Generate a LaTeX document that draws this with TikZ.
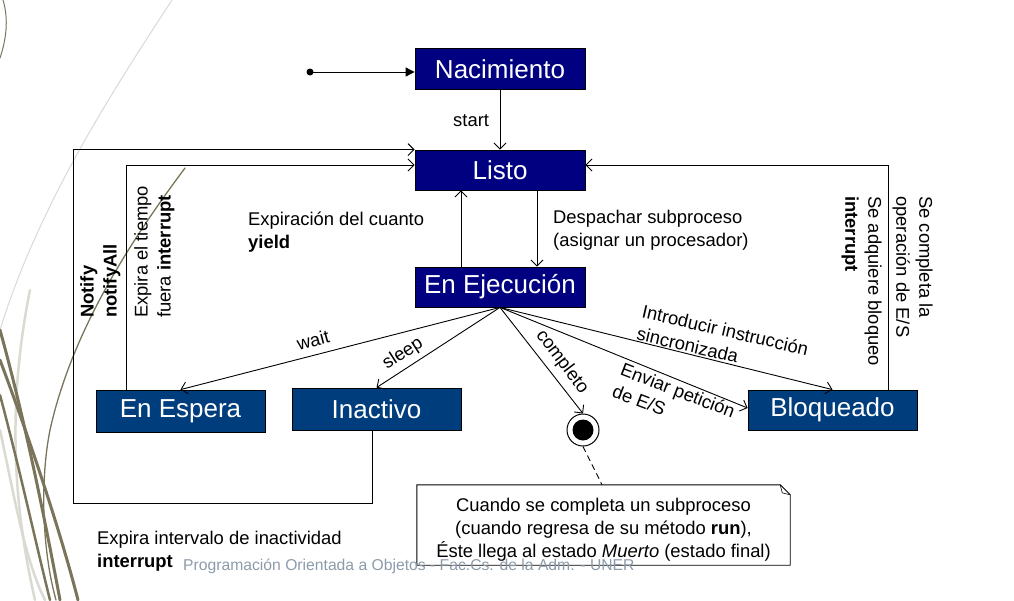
\documentclass[tikz,border=0pt]{standalone}
\usepackage{fontspec}
\setmainfont{Liberation Sans}
\usetikzlibrary{arrows.meta,calc}
\definecolor{navybox}{RGB}{0,0,128}
\definecolor{bluebox}{RGB}{0,61,125}
\definecolor{olivedeco}{RGB}{122,116,90}
\definecolor{lightdeco}{RGB}{218,218,210}
\definecolor{footgray}{RGB}{140,155,170}
\tikzset{
 state/.style={draw=black, line width=0.8pt, text=white, minimum width=170pt, minimum height=41pt, inner sep=0pt, font=\fontsize{26}{30}\selectfont},
 topstate/.style={state, fill=navybox},
 lowstate/.style={state, fill=bluebox},
 lbl/.style={font=\fontsize{18.4}{23}\selectfont, inner sep=0pt, align=left},
 trans/.style={draw=black, line width=0.9pt, -{Straight Barb[length=6pt,width=12pt]}},
 deco/.style={line cap=round},
}
\begin{document}
\begin{tikzpicture}[x=1pt,y=-1pt]
\useasboundingbox (0,0) rectangle (1014,600);
% decorative curves
\draw[deco, lightdeco, line width=1pt] (172,0) .. controls (120,80) and (40,200) .. (0,330);
\draw[deco, lightdeco, line width=2.5pt] (30,290) .. controls (8,400) and (12,500) .. (35,600);
\draw[deco, lightdeco, line width=2.5pt] (0,430) .. controls (15,500) and (25,560) .. (45,600);
\draw[deco, olivedeco, line width=1pt] (3,0) .. controls (9,20) and (6,40) .. (0,58);
\draw[deco, olivedeco, line width=3pt] (0,330) .. controls (25,420) and (45,520) .. (60,600);
\draw[deco, olivedeco, line width=3pt] (0,360) .. controls (30,440) and (60,530) .. (78,600);
\draw[deco, olivedeco, line width=2.5pt] (0,395) .. controls (20,470) and (35,540) .. (50,600);
\draw[deco, olivedeco, line width=1.3pt] (185,168) .. controls (120,255) and (70,340) .. (50,430) .. controls (40,480) and (42,550) .. (56,600);

% states
\node[topstate] (nac) at (500,69) {Nacimiento};
\node[topstate, minimum height=40pt] (listo) at (500,170) {Listo};
\node[topstate, minimum height=40pt] (ejec) at (500,287) {En Ejecución};
\node[lowstate, minimum width=169pt, minimum height=42pt] (espera) at (180.5,411) {En Espera};
\node[lowstate, minimum width=169pt, minimum height=42pt] (inact) at (376.5,409) {Inactivo};
\node[lowstate, minimum width=169pt, minimum height=40pt] (bloq) at (832.5,410) {Bloqueado};
\node[circle, draw=black, fill=white, line width=1pt, minimum size=32pt, inner sep=0pt] (final) at (583,430) {};
\fill (final.center) circle (10.5);

% initial
\coordinate (init) at (310,72);
\fill (init) circle (3.5);
\draw[line width=0.9pt, -{Triangle[length=9pt,width=9pt]}] (init) -- (init -| nac.west);

% transitions
\draw[trans] (nac.south) -- (listo.north);
\draw[trans] ([xshift=37pt]listo.south) -- ([xshift=37pt]ejec.north);
\draw[trans] ([xshift=-39pt]ejec.north) -- ([xshift=-39pt]listo.south);
\draw[trans] (ejec.south) -- (espera.north);
\draw[trans] (ejec.south) -- (inact.north);
\draw[trans] (ejec.south) -- (final.north);
\draw[trans] (ejec.south) -- (bloq.north);
\draw[trans] (ejec.south) -- ([yshift=2pt]bloq.west);
\draw[trans] ([xshift=55.5pt]bloq.north) |- ([yshift=5pt]listo.east);
\draw[trans] ([xshift=-54.5pt]espera.north) |- ([yshift=5pt]listo.west);
\coordinate (lowleft) at (73,503);
\draw[trans] ([xshift=-4.5pt]inact.south) |- (lowleft) |- (listo.north west);

% labels
\node[lbl, anchor=base west] (lstart) at (453,126) {start};
\node[lbl, anchor=north west] (lyield) at (248,212) {Expiración del cuanto\\\textbf{yield}};
\node[lbl, anchor=north west] (ldesp) at (553,210) {Despachar subproceso\\(asignar un procesador)};
\node[lbl, rotate=14.6] (lwait) at (313,340) {wait};
\node[lbl, rotate=33] (lsleep) at (403,354) {sleep};
\node[lbl, rotate=-53] (lcomp) at (562,362) {completo};
\node[lbl, rotate=-13, anchor=north west] (lsinc) at (644,304) {Introducir instrucción\\sincronizada};
\node[lbl, rotate=-21, anchor=north west] (lenv) at (624,362) {Enviar petición\\de E/S};
\node[lbl, rotate=-90, anchor=north west] (lcompl) at (933,196) {Se completa la\\operación de E/S};
\node[lbl, rotate=-90, anchor=north west] (ladq) at (882,196) {Se adquiere bloqueo\\\textbf{interrupt}};
\node[lbl, rotate=90, anchor=north west] (lnotify) at (80,318) {\textbf{Notify}\\\textbf{notifyAll}};
\node[lbl, rotate=90, anchor=north west] (lexpt) at (134,318) {Expira el tiempo\\fuera \textbf{interrupt}};
\node[lbl, anchor=north west] (lexpi) at (97,531) {Expira intervalo de inactividad\\\textbf{interrupt}};

% note
\node[lbl, align=center, minimum width=373pt, minimum height=80pt] (nota) at (603.5,530) {Cuando se completa un subproceso\\(cuando regresa de su método \textbf{run}),\\Éste llega al estado \textit{Muerto} (estado final)};
\draw[line width=0.9pt] ([yshift=5pt]nota.north west) -- ([xshift=-10pt,yshift=5pt]nota.north east) -- ([yshift=-5pt]nota.north east) -- ([yshift=5pt]nota.south east) -- ([yshift=5pt]nota.south west) -- cycle;
\draw[line width=0.6pt] ([xshift=-10pt,yshift=5pt]nota.north east) -- ++(2,8) -- ([yshift=-5pt]nota.north east);
\draw[line width=0.9pt, dash pattern=on 6pt off 4pt] (final.south) -- ([xshift=-1.5pt,yshift=5pt]nota.north);

% footer
\node[font=\fontsize{15.7}{18}\selectfont, text=footgray, inner sep=0pt, anchor=base west] (footer) at (183,570) {Programación Orientada a Objetos - Fac.Cs. de la Adm. - UNER};
\end{tikzpicture}
\end{document}
